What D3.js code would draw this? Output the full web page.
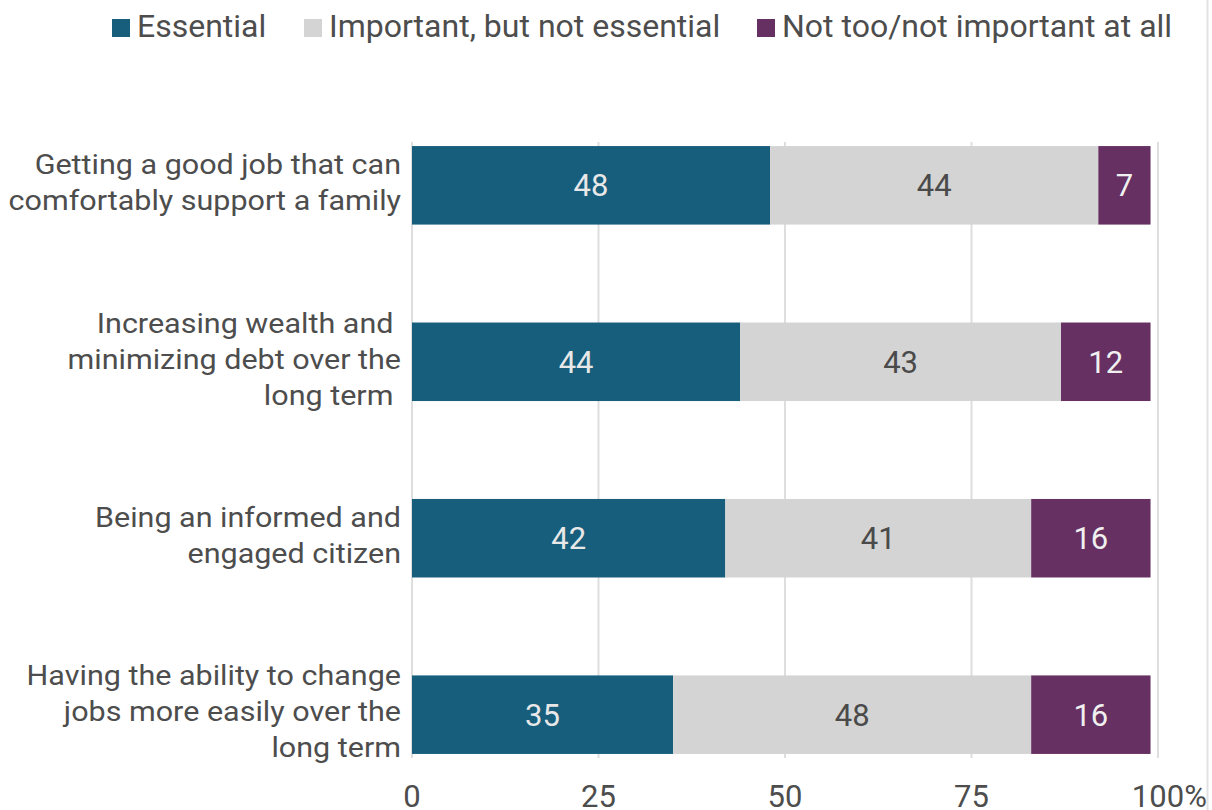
<!DOCTYPE html>
<html>
<head>
<meta charset="utf-8">
<script src="https://cdn.jsdelivr.net/npm/d3@7"></script>
<style>
  body { margin: 0; background: #fff; }
  svg { font-family: Roboto, "Noto Sans", sans-serif; }
</style>
</head>
<body>
<svg id="chart" width="1212" height="810"></svg>
<script>
// data
const categories = [
  ['Getting a good job that can', 'comfortably support a family'],
  ['Increasing wealth and ', 'minimizing debt over the', 'long term '],
  ['Being an informed and', 'engaged citizen'],
  ['Having the ability to change', 'jobs more easily over the', 'long term'],
];
const seriesNames = ['Essential', 'Important, but not essential', 'Not too/not important at all'];
const essential = [48, 44, 42, 35];
const important = [44, 43, 41, 48];
const notImportant = [7, 12, 16, 16];
const xTicks = [0, 25, 50, 75, 100];

const colors = ['#175d7c', '#d4d4d4', '#663062'];
const labelColors = ['#e8e8e8', '#4a4a4a', '#f0f0f0'];
const textColor = '#4d4d4d';

const svg = d3.select('#chart');
const margin = { top: 142, right: 54, bottom: 52, left: 412 };
const width = 1212, height = 810;

const x = d3.scaleLinear().domain([0, 100]).range([margin.left, width - margin.right]);
const y = d3.scaleBand()
  .domain(d3.range(categories.length))
  .range([margin.top, height - margin.bottom])
  .paddingInner(0.555)
  .paddingOuter(0.023);

// frame line on the right
svg.append('line')
  .attr('x1', 1207.5).attr('x2', 1207.5)
  .attr('y1', 0).attr('y2', height)
  .attr('stroke', '#e2e2e2').attr('stroke-width', 2);

// gridlines
svg.append('g')
  .selectAll('line')
  .data(xTicks)
  .join('line')
  .attr('x1', d => x(d)).attr('x2', d => x(d))
  .attr('y1', margin.top).attr('y2', height - margin.bottom)
  .attr('stroke', '#dedede').attr('stroke-width', 2);

// stacked data
const rows = categories.map((c, i) => ({ i, values: [essential[i], important[i], notImportant[i]] }));
const segs = [];
rows.forEach(r => {
  let acc = 0;
  r.values.forEach((v, k) => {
    segs.push({ row: r.i, k, v, x0: acc, x1: acc + v });
    acc += v;
  });
});

svg.append('g')
  .selectAll('rect')
  .data(segs)
  .join('rect')
  .attr('x', d => x(d.x0))
  .attr('y', d => y(d.row))
  .attr('width', d => x(d.x1) - x(d.x0))
  .attr('height', y.bandwidth())
  .attr('fill', d => colors[d.k]);

svg.append('g')
  .selectAll('text')
  .data(segs)
  .join('text')
  .attr('x', d => (x(d.x0) + x(d.x1)) / 2)
  .attr('y', d => y(d.row) + y.bandwidth() / 2)
  .attr('dy', '0.35em')
  .attr('text-anchor', 'middle')
  .attr('font-size', 31)
  .attr('fill', d => labelColors[d.k])
  .text(d => d.v);

// category labels (slightly wide glyphs in the source, so stretch a bit)
const lineH = 36;
const catG = svg.append('g').attr('transform', 'translate(401,0) scale(1.09,1)');
categories.forEach((lines, i) => {
  const cy = y(i) + y.bandwidth() / 2 - 3;
  const t = catG.append('text')
    .attr('text-anchor', 'end')
    .attr('font-size', 28)
    .attr('fill', textColor)
    .style('white-space', 'pre');
  lines.forEach((ln, j) => {
    t.append('tspan')
      .attr('x', 0)
      .attr('y', cy + (j - (lines.length - 1) / 2) * lineH)
      .attr('dy', '0.35em')
      .text(ln);
  });
});

// x axis labels
const axisG = svg.append('g');
xTicks.forEach(v => {
  const t = axisG.append('text')
    .attr('x', x(v))
    .attr('y', 807)
    .attr('text-anchor', 'middle')
    .attr('font-size', 31)
    .attr('fill', textColor)
    .text(v);
  if (v === 100) {
    const bb = t.node().getBBox();
    axisG.append('text')
      .attr('x', bb.x + bb.width)
      .attr('y', 807)
      .attr('font-size', 31)
      .attr('fill', textColor)
      .text('%');
  }
});

// legend
const legendX = [112, 304, 757];
const leg = svg.append('g');
seriesNames.forEach((name, k) => {
  leg.append('rect')
    .attr('x', legendX[k]).attr('y', 19)
    .attr('width', 18).attr('height', 18)
    .attr('fill', colors[k]);
  leg.append('text')
    .attr('x', legendX[k] + 25)
    .attr('y', 37)
    .attr('font-size', 32)
    .attr('fill', textColor)
    .text(name);
});
</script>
</body>
</html>
